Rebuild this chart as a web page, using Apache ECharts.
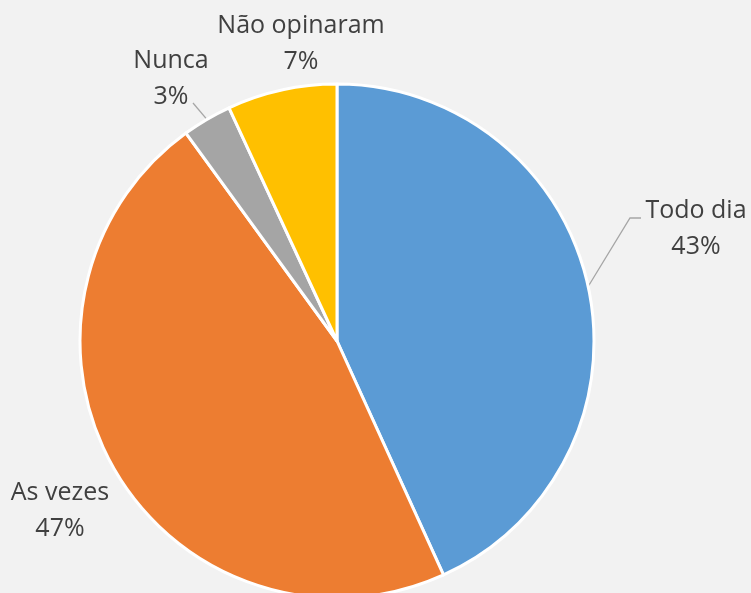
<!DOCTYPE html>
<html><head><meta charset="utf-8">
<script src="https://cdn.jsdelivr.net/npm/echarts@6/dist/echarts.min.js"></script>
<style>html,body{margin:0;padding:0;background:#F2F2F2;}#c{width:751px;height:593px;}</style>
</head><body><div id="c"></div>
<script>
const categories = ['Todo dia', 'As vezes', 'Nunca', 'Não opinaram'];
const values = [43.2, 46.8, 3.1, 6.9];
const colors = ['#5B9BD5', '#ED7D31', '#A5A5A5', '#FFC000'];
const showLines = [true, false, true, false];

// label placement (layout only)
const labelPos = [
  {x: 696, y: 229, line: [[630, 218], [641, 218]]},
  {x: 60, y: 511},
  {x: 171, y: 79, line: [[193, 103]]},
  {x: 301, y: 44}
];

const chart = echarts.init(document.getElementById('c'));
chart.setOption({
  backgroundColor: '#F2F2F2',
  animation: false,
  series: [{
    type: 'pie',
    center: [337, 341],
    radius: [0, 257],
    startAngle: 90,
    clockwise: true,
    avoidLabelOverlap: false,
    data: categories.map((c, i) => ({
      name: c, value: values[i],
      itemStyle: {color: colors[i]},
      labelLine: {show: showLines[i]}
    })),
    itemStyle: {borderColor: '#FFFFFF', borderWidth: 3},
    label: {
      show: true,
      formatter: p => p.name + '\n' + Math.round(p.percent) + '%',
      fontFamily: 'Open Sans',
      fontSize: 25,
      lineHeight: 36,
      color: '#404040',
      align: 'center'
    },
    labelLine: {lineStyle: {color: '#A6A6A6', width: 1.3}},
    labelLayout: function (params) {
      const lp = labelPos[params.dataIndex];
      const res = {x: lp.x, y: lp.y, align: 'center', verticalAlign: 'middle'};
      if (lp.line && params.labelLinePoints) {
        res.labelLinePoints = [params.labelLinePoints[0]].concat(lp.line);
      }
      return res;
    }
  }]
});
</script></body></html>
